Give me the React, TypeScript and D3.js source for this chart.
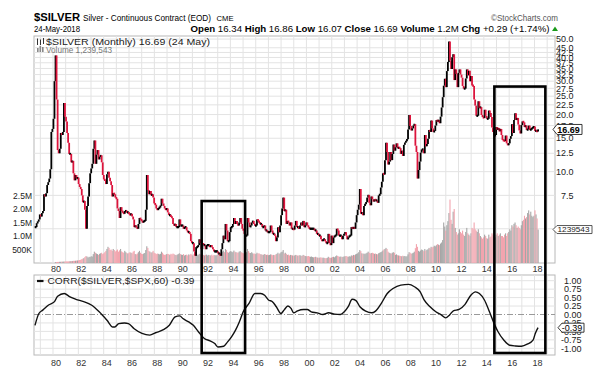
import React from 'react';
import * as d3 from 'd3';

// Monthly closes from June 1978 to May 2018
const closes1978_1989 = [
  5.1, 5.35, 5.45, 5.6, 5.95, 5.8, 6.05,
  6.2, 7.6, 7.4, 7.7, 8.5, 8.8, 9.2, 10.3, 16.2, 16.8, 19.0, 30.0,
  41.0, 24.0, 13.0, 12.5, 13.2, 16.0, 15.6, 16.2, 23.0, 19.5, 18.4, 16.0,
  14.2, 12.4, 12.4, 11.2, 11.4, 9.8, 9.0, 9.6, 9.2, 9.3, 8.6, 8.3,
  8.1, 7.5, 6.9, 7.0, 6.3, 5.0, 6.6, 7.4, 8.7, 9.8, 10.4, 11.0,
  13.2, 14.6, 11.0, 12.3, 13.0, 11.6, 12.0, 12.2, 11.2, 9.6, 9.1, 9.0,
  8.6, 9.7, 10.0, 9.3, 8.9, 8.5, 7.4, 7.7, 7.6, 7.3, 7.2, 6.4,
  6.2, 5.7, 6.5, 6.2, 6.1, 6.0, 6.2, 6.2, 6.1, 6.1, 6.0, 5.9,
  6.0, 5.8, 5.6, 5.1, 5.2, 5.1, 5.0, 5.3, 5.7, 5.6, 5.5, 5.4,
  5.5, 5.5, 6.3, 9.6, 8.0, 7.6, 7.9, 7.5, 7.6, 7.3, 6.8, 6.7,
  6.4, 6.3, 6.4, 6.5, 6.6, 7.2, 6.8, 6.6, 6.4, 6.3, 6.4, 6.1,
  5.9, 5.9, 5.8, 5.7, 5.3, 5.2, 5.3, 5.1, 5.1, 5.1, 5.6, 5.2,
];
const closes1990_2003 = [
  5.2, 5.2, 5.0, 5.1, 5.1, 4.9, 4.8, 4.8, 4.7, 4.3, 4.2, 4.2,
  3.8, 3.6, 4.0, 4.0, 4.1, 4.4, 4.2, 3.9, 4.2, 4.1, 4.1, 3.9,
  4.1, 4.1, 4.1, 4.0, 4.1, 4.0, 3.9, 3.8, 3.8, 3.8, 3.8, 3.7,
  3.7, 3.6, 3.9, 4.2, 4.6, 4.4, 5.3, 4.9, 4.3, 4.3, 4.8, 5.1,
  5.1, 5.3, 5.7, 5.3, 5.5, 5.3, 5.2, 5.4, 5.7, 5.3, 5.0, 4.9,
  4.7, 4.6, 4.6, 5.7, 5.4, 5.1, 5.2, 5.4, 5.5, 5.3, 5.2, 5.2,
  5.6, 5.5, 5.4, 5.3, 5.3, 5.1, 5.1, 5.2, 4.9, 4.9, 4.8, 4.8,
  4.8, 5.2, 4.9, 4.7, 4.7, 4.6, 4.3, 4.5, 5.1, 4.8, 5.2, 5.9,
  6.4, 7.3, 6.2, 6.3, 5.3, 5.5, 5.4, 5.2, 5.4, 5.0, 5.0, 4.95,
  5.2, 5.5, 5.1, 5.1, 5.0, 5.2, 5.4, 5.2, 5.5, 5.1, 5.2, 5.4,
  5.2, 5.1, 5.0, 5.0, 5.0, 5.0, 5.0, 4.9, 4.9, 4.7, 4.7, 4.6,
  4.6, 4.4, 4.3, 4.4, 4.4, 4.3, 4.2, 4.2, 4.7, 4.2, 4.1, 4.6,
  4.2, 4.5, 4.6, 4.6, 5.0, 4.9, 4.6, 4.6, 4.6, 4.4, 4.6, 4.7,
  4.8, 4.6, 4.4, 4.5, 4.6, 4.6, 5.1, 5.0, 5.1, 5.0, 5.4, 5.9,
];
const closes2004_2018 = [
  6.3, 6.7, 8.1, 6.0, 6.1, 5.9, 6.6, 6.75, 6.9, 7.3, 7.55, 6.85,
  6.65, 7.4, 7.15, 6.95, 7.15, 7.05, 7.05, 6.85, 7.5, 7.6, 8.25, 8.85,
  9.8, 9.65, 11.5, 14.2, 12.7, 10.9, 11.3, 12.7, 11.5, 12.4, 13.9, 12.9,
  13.45, 14.1, 13.3, 13.4, 13.3, 12.4, 12.9, 12.1, 13.85, 14.25, 14.5, 14.8,
  16.7, 19.9, 17.4, 16.5, 16.9, 17.5, 17.8, 13.7, 12.7, 9.2, 10.2, 11.3,
  12.6, 13.1, 13.1, 12.5, 15.6, 13.6, 14.0, 14.9, 16.6, 16.2, 18.6, 16.9,
  16.2, 16.4, 17.5, 18.7, 18.4, 18.7, 18.0, 19.5, 21.8, 24.7, 28.4, 30.9,
  27.9, 33.9, 37.9, 48.6, 38.5, 34.8, 40.1, 41.6, 30.4, 34.6, 32.7, 27.9,
  33.2, 34.6, 32.5, 31.3, 28.3, 27.4, 27.4, 31.0, 34.6, 32.2, 34.0, 30.0,
  31.9, 28.5, 28.3, 24.0, 22.3, 19.7, 19.7, 23.5, 21.7, 21.9, 19.9, 19.4,
  19.2, 21.2, 19.7, 19.0, 19.0, 21.0, 20.4, 19.4, 17.1, 16.2, 15.5, 15.6,
  17.2, 16.6, 17.0, 16.3, 16.8, 15.6, 14.7, 14.6, 14.5, 15.5, 14.1, 13.8,
  14.1, 14.9, 15.4, 17.8, 16.0, 18.7, 20.3, 18.7, 19.2, 17.7, 16.5, 15.9,
  17.6, 18.4, 18.2, 17.2, 17.5, 16.6, 16.7, 17.5, 16.6, 16.7, 17.0, 17.1,
  17.3, 16.4, 16.4, 16.3, 16.69,
];
const closes = [...closes1978_1989, ...closes1990_2003, ...closes2004_2018];

// Monthly volume (thousands) from January 1980
const volume1980_1999 = [
  30, 35, 40, 40, 45, 45, 50, 50, 55, 55, 60, 60,
  60, 65, 70, 70, 75, 80, 80, 85, 90, 95, 100, 110,
  120, 140, 160, 180, 220, 260, 240, 200, 230, 220, 250, 240,
  330, 420, 380, 350, 330, 300, 340, 360, 380, 330, 360, 400,
  450, 520, 600, 560, 480, 500, 450, 520, 480, 430, 460, 500,
  420, 470, 520, 430, 400, 380, 450, 400, 370, 350, 380, 400,
  380, 360, 420, 450, 330, 320, 350, 400, 450, 380, 340, 330,
  350, 370, 480, 620, 560, 450, 420, 380, 400, 450, 380, 360,
  330, 350, 340, 320, 340, 420, 380, 320, 300, 310, 330, 340,
  330, 300, 340, 320, 350, 330, 300, 290, 310, 330, 360, 330,
  310, 300, 330, 280, 300, 310, 280, 320, 300, 340, 310, 280,
  330, 360, 320, 310, 300, 340, 320, 290, 330, 300, 280, 300,
  310, 280, 300, 290, 280, 310, 270, 300, 290, 280, 300, 330,
  340, 380, 360, 420, 460, 400, 520, 480, 400, 380, 420, 440,
  420, 400, 460, 420, 400, 390, 380, 420, 440, 400, 380, 360,
  370, 390, 400, 520, 440, 380, 370, 400, 360, 340, 350, 330,
  380, 350, 360, 330, 320, 310, 300, 330, 320, 300, 310, 290,
  300, 320, 310, 290, 300, 290, 320, 340, 380, 330, 360, 400,
  420, 480, 350, 380, 340, 300, 310, 280, 300, 290, 280, 270,
  280, 300, 290, 270, 280, 290, 270, 260, 300, 280, 260, 250,
];
const volume2000_2018 = [
  250, 260, 240, 230, 240, 220, 210, 220, 230, 210, 200, 190,
  200, 210, 190, 200, 190, 180, 180, 190, 230, 200, 190, 200,
  220, 230, 210, 250, 280, 260, 240, 230, 240, 220, 230, 240,
  250, 260, 240, 230, 250, 240, 280, 270, 300, 290, 320, 340,
  360, 400, 480, 440, 360, 340, 350, 330, 360, 380, 420, 380,
  350, 370, 380, 360, 340, 350, 330, 320, 360, 380, 400, 420,
  460, 500, 520, 560, 520, 420, 380, 360, 350, 380, 400, 380,
  300, 320, 290, 280, 270, 260, 250, 270, 250, 260, 240, 250,
  320, 400, 380, 340, 360, 380, 420, 550, 700, 600, 450, 420,
  460, 500, 480, 440, 520, 460, 490, 510, 560, 540, 600, 580,
  600, 640, 620, 660, 700, 680, 660, 720, 760, 850, 1500, 1350,
  1200, 1400, 1550, 1850, 2350, 1600, 1450, 1900, 2000, 1300, 1150, 1050,
  1100, 1250, 1150, 1100, 1200, 1050, 1000, 1150, 1300, 1100, 1050, 1000,
  1100, 1300, 1250, 1500, 1250, 1200, 1150, 1250, 1100, 1000, 950, 900,
  950, 1050, 1000, 920, 900, 1050, 950, 980, 1100, 1050, 1000, 950,
  1050, 1100, 1000, 1050, 1100, 1000, 1000, 950, 1050, 1100, 1000, 1100,
  1150, 1250, 1200, 1400, 1350, 1450, 1500, 1400, 1300, 1350, 1300, 1250,
  1400, 1550, 1600, 1750, 1650, 1700, 1850, 1950, 1800, 1900, 1750, 1700,
  1750, 1950, 1800, 1650, 1240,
];
const volumes = [...volume1980_1999, ...volume2000_2018];

// CORR($SILVER,$SPX,60)
const corrDates = [
  1978.41, 1978.72, 1979.03, 1979.49, 1979.96, 1980.21, 1980.73, 1981.19, 1981.66, 1982.28,
  1982.89, 1983.51, 1984.13, 1984.59, 1984.75, 1985.06, 1985.52, 1985.83, 1986.29, 1986.91,
  1987.53, 1987.99, 1988.61, 1989.08, 1989.54, 1989.91, 1990.16, 1990.62, 1990.99, 1991.39,
  1991.86, 1992.32, 1992.69, 1992.94, 1993.4, 1993.71, 1994.02, 1994.33, 1994.64, 1994.95,
  1995.41, 1995.88, 1996.34, 1996.65, 1996.96, 1997.27, 1997.58, 1997.95, 1998.19, 1998.5,
  1998.75, 1998.96, 1999.27, 1999.74, 2000.04, 2000.35, 2000.82, 2001.28, 2001.74, 2002.21,
  2002.67, 2002.98, 2003.29, 2003.6, 2003.91, 2004.22, 2004.68, 2005.15, 2005.46, 2005.92,
  2006.39, 2006.85, 2007.47, 2008.09, 2008.55, 2009.01, 2009.32, 2009.79, 2010.25, 2010.71,
  2011.02, 2011.33, 2011.64, 2012.1, 2012.57, 2013.03, 2013.4, 2013.71, 2014.11, 2014.51,
  2014.88, 2015.19, 2015.66, 2016.12, 2016.58, 2017.05, 2017.51, 2017.97, 2018.15, 2018.37,
];
const corrValues = [
  -0.32, 0.03, 0.13, 0.28, 0.38, 0.54, 0.62, 0.52, 0.45, 0.38,
  0.28, 0.08, -0.17, -0.37, -0.37, -0.27, -0.25, -0.27, -0.42, -0.56,
  -0.61, -0.54, -0.45, -0.32, -0.07, -0.04, -0.12, -0.22, -0.32, -0.51,
  -0.71, -0.78, -0.86, -0.96, -0.94, -0.81, -0.66, -0.47, -0.22, 0.08,
  0.33, 0.62, 0.62, 0.57, 0.43, 0.38, 0.23, 0.03, 0.13, 0.25,
  0.18, 0.05, 0.11, 0.15, 0.15, 0.08, 0.05, 0.0, 0.05, 0.01,
  0.0, 0.08, 0.23, 0.45, 0.41, 0.23, 0.1, 0.05, 0.1, 0.33,
  0.62, 0.77, 0.87, 0.89, 0.82, 0.67, 0.43, 0.23, 0.08, -0.02,
  -0.1, -0.02, 0.11, 0.15, 0.3, 0.57, 0.67, 0.62, 0.43, 0.08,
  -0.27, -0.51, -0.76, -0.91, -0.93, -0.94, -0.88, -0.76, -0.56, -0.39,
];

const priceGrid = [50, 45, 42.5, 40, 37.5, 35, 32.5, 30, 27.5, 25, 22.5, 20, 17.5, 15, 12.5, 10, 7.5, 5];
const priceTicks = [50, 45, 42.5, 40, 37.5, 35, 32.5, 30, 27.5, 25, 22.5, 20, 17.5, 15, 12.5, 10, 7.5];
const volTicks = [2500000, 2000000, 1500000, 1000000, 500000];
const volTickLabels = ['2.5M', '2.0M', '1.5M', '1.0M', '500K'];
const corrTicks = [1, 0.75, 0.5, 0.25, 0, -0.25, -0.5, -0.75, -1];
const yearLabels = d3.range(1980, 2019, 2);
const gridYears = d3.range(1979, 2020);

// highlighted periods (years, top price)
const boxes = [
  { from: 1991.65, to: 1995.1, top: 7.0 },
  { from: 2014.9, to: 2018.95, top: 28.1 },
];

const FONT = 'Liberation Sans, Arial, Helvetica, sans-serif';
const RED = '#dc143c';

export default function App() {
  const P = { l: 34, r: 555, t: 36, b: 263 };
  const C = { t: 275, b: 355 };
  const x = d3.scaleLinear().domain([1980, 2018]).range([55, 533.4]);
  const xl = d3.scaleLinear().domain([1980, 2018]).range([56, 537.5]);
  const yP = d3.scaleLog().domain([3.3, 51.9]).range([P.b, P.t]);
  const yV = d3.scaleLinear().domain([0, 1000000]).range([P.b, P.b - 27]);
  const yC = d3.scaleLinear().domain([-1, 1]).range([348.3, 280.7]);

  const monthT = (i: number) => 1978 + 5 / 12 + i / 12 + 0.5 / 12;

  const bars = closes.map((c, i) => {
    const o = i === 0 ? c : closes[i - 1];
    let y1 = yP(Math.max(o, c));
    let y2 = yP(Math.min(o, c));
    if (y2 - y1 < 2.2) {
      const m = (y1 + y2) / 2;
      y1 = m - 1.1;
      y2 = m + 1.1;
    }
    return { x: x(monthT(i)), y1, y2, up: c >= o };
  });

  const volBars = volumes.map((v, j) => {
    const ci = j + 19;
    const up = closes[ci] >= closes[ci - 1];
    return { x: x(1980 + j / 12 + 0.5 / 12), y: yV(v * 1000), up };
  });

  const corrLine = d3
    .line<number>()
    .x((_, i) => x(corrDates[i]))
    .y((d) => yC(d))
    .curve(d3.curveMonotoneX)(corrValues) as string;

  const fmtYear = (y: number) => String(y % 100).padStart(2, '0');
  const gridColor = '#e3e3e3';
  const borderColor = '#b8b8b8';

  const tag = (xl0: number, w: number, yc: number, h: number) =>
    `M${xl0},${yc} L${xl0 + 4},${yc - h / 2} L${xl0 + w},${yc - h / 2} L${xl0 + w},${yc + h / 2} L${xl0 + 4},${yc + h / 2} Z`;

  return (
    <svg
      width={605}
      height={383}
      viewBox="0 0 605 383"
      style={{ position: 'absolute', left: 0, top: 0, background: '#fff' }}
      fontFamily={FONT}
    >
      <rect x={0} y={0} width={605} height={383} fill="#fff" />
      {/* Header */}
      <text x={34} y={21} fontSize={11.5} fontWeight="bold" fill="#000" textLength={46} lengthAdjust="spacingAndGlyphs">$SILVER</text>
      <text x={83} y={21} fontSize={9.5} fill="#000" textLength={128} lengthAdjust="spacingAndGlyphs">Silver - Continuous Contract (EOD)</text>
      <text x={216.5} y={21} fontSize={8} fill="#000" textLength={17} lengthAdjust="spacingAndGlyphs">CME</text>
      <text x={491} y={21} fontSize={9} fill="#555" textLength={67} lengthAdjust="spacingAndGlyphs">©StockCharts.com</text>
      <text x={34} y={32} fontSize={8.5} fill="#000" textLength={46} lengthAdjust="spacingAndGlyphs">24-May-2018</text>
      <text x={190.5} y={32} fontSize={9.5} fill="#000" textLength={359} lengthAdjust="spacingAndGlyphs">
        <tspan fontWeight="bold">Open</tspan> 16.34 <tspan fontWeight="bold">High</tspan> 16.86{' '}
        <tspan fontWeight="bold">Low</tspan> 16.07 <tspan fontWeight="bold">Close</tspan> 16.69{' '}
        <tspan fontWeight="bold">Volume</tspan> 1.2M <tspan fontWeight="bold">Chg</tspan> +0.29 (+1.74%)
      </text>
      <path d="M552,31 L558,31 L555,26.5 Z" fill="#1a9a1a" />

      {/* Price panel */}
      <rect x={P.l} y={P.t} width={P.r - P.l} height={P.b - P.t} fill="#fff" stroke={borderColor} />
      {gridYears.map((yr) => (
        <line key={'g' + yr} x1={xl(yr) - 3} x2={xl(yr) - 3} y1={P.t} y2={P.b} stroke={gridColor} />
      ))}
      {priceGrid.map((p) => (
        <line key={'h' + p} x1={P.l} x2={P.r} y1={yP(p)} y2={yP(p)} stroke={gridColor} />
      ))}
      {/* Volume */}
      {volBars.map((b, i) => (
        <rect key={'v' + i} x={b.x - 0.55} y={b.y} width={1.1} height={P.b - b.y} fill={b.up ? '#a6a6a6' : '#f2a4ae'} />
      ))}
      {/* Price bars */}
      {bars.map((b, i) => (
        <line key={'b' + i} x1={b.x} x2={b.x} y1={b.y1} y2={b.y2} stroke={b.up ? '#000' : RED} strokeWidth={1.8} />
      ))}
      {/* legends */}
      <g>
        <line x1={37.5} x2={37.5} y1={38.5} y2={45} stroke="#333" />
        <line x1={40.5} x2={40.5} y1={39.5} y2={45} stroke="#333" />
        <line x1={43.5} x2={43.5} y1={38} y2={44} stroke="#333" />
        <text x={46} y={45} fontSize={9.5} fill="#222" textLength={164} lengthAdjust="spacingAndGlyphs">$SILVER (Monthly) 16.69 (24 May)</text>
        <rect x={37} y={48} width={1.6} height={4} fill="#888" />
        <rect x={39.5} y={46} width={1.6} height={6} fill="#888" />
        <rect x={42} y={47} width={1.6} height={5} fill="#888" />
        <text x={46} y={52.5} fontSize={8.5} fill="#777" textLength={66} lengthAdjust="spacingAndGlyphs">Volume 1,239,543</text>
      </g>
      {/* Right price axis */}
      {priceTicks.map((p) => (
        <text key={'pl' + p} x={573.5} y={yP(p) + 3.2} fontSize={9} fill="#222" textAnchor="end">
          {p.toFixed(1)}
        </text>
      ))}
      {/* Left volume axis */}
      {volTicks.map((v, i) => (
        <text key={'vl' + v} x={32} y={yV(v) + 3.2} fontSize={8.5} fill="#222" textAnchor="end">
          {volTickLabels[i]}
        </text>
      ))}
      {/* price tag */}
      <path d={tag(553, 29, yP(16.69), 10)} fill="#fff" stroke="#222" strokeWidth={0.9} />
      <text x={568.5} y={yP(16.69) + 3.3} fontSize={9} fontWeight="bold" textAnchor="middle" fill="#000">16.69</text>
      <path d={tag(553, 39, yV(1239543), 8)} fill="#fff" stroke="#444" strokeWidth={0.9} />
      <text x={557.5} y={yV(1239543) + 2.9} fontSize={8} fill="#222" textLength={32} lengthAdjust="spacingAndGlyphs">1239543</text>

      {/* x labels upper */}
      {yearLabels.map((yr) => (
        <text key={'xu' + yr} x={xl(yr)} y={272} fontSize={9} fill="#333" textAnchor="middle">
          {fmtYear(yr)}
        </text>
      ))}

      {/* Correlation panel */}
      <rect x={P.l} y={C.t} width={P.r - P.l} height={C.b - C.t} fill="#fff" stroke={borderColor} />
      {gridYears.map((yr) => (
        <line key={'cg' + yr} x1={xl(yr) - 3} x2={xl(yr) - 3} y1={C.t} y2={C.b} stroke={gridColor} />
      ))}
      {corrTicks.map((v) => (
        <line key={'ch' + v} x1={P.l} x2={P.r} y1={yC(v)} y2={yC(v)} stroke={v === 0 ? '#999' : gridColor} strokeDasharray={v === 0 ? '6,2,1,2' : undefined} />
      ))}
      <path d={corrLine} fill="none" stroke="#111" strokeWidth={1.4} />
      <line x1={37} x2={43.5} y1={281} y2={281} stroke="#111" strokeWidth={2.2} />
      <text x={47.5} y={284.3} fontSize={9.5} fill="#222" textLength={147} lengthAdjust="spacingAndGlyphs">CORR($SILVER,$SPX,60) -0.39</text>
      {corrTicks.map((v) => (
        <text key={'cl' + v} x={581.5} y={yC(v) + 3.2} fontSize={9} fill="#222" textAnchor="end">
          {v.toFixed(2)}
        </text>
      ))}
      <path d={tag(558, 26, yC(-0.39), 9)} fill="#fff" stroke="#222" strokeWidth={0.9} />
      <text x={572} y={yC(-0.39) + 3.2} fontSize={9} textAnchor="middle" fill="#000">-0.39</text>

      {/* x labels lower */}
      {yearLabels.map((yr) => (
        <text key={'xl' + yr} x={xl(yr)} y={365.5} fontSize={9} fill="#333" textAnchor="middle">
          {fmtYear(yr)}
        </text>
      ))}

      {/* highlight boxes */}
      {boxes.map((b, i) => (
        <rect
          key={'box' + i}
          x={x(b.from)}
          y={yP(b.top)}
          width={x(b.to) - x(b.from)}
          height={353 - yP(b.top)}
          fill="none"
          stroke="#000"
          strokeWidth={2.6}
        />
      ))}
    </svg>
  );
}
